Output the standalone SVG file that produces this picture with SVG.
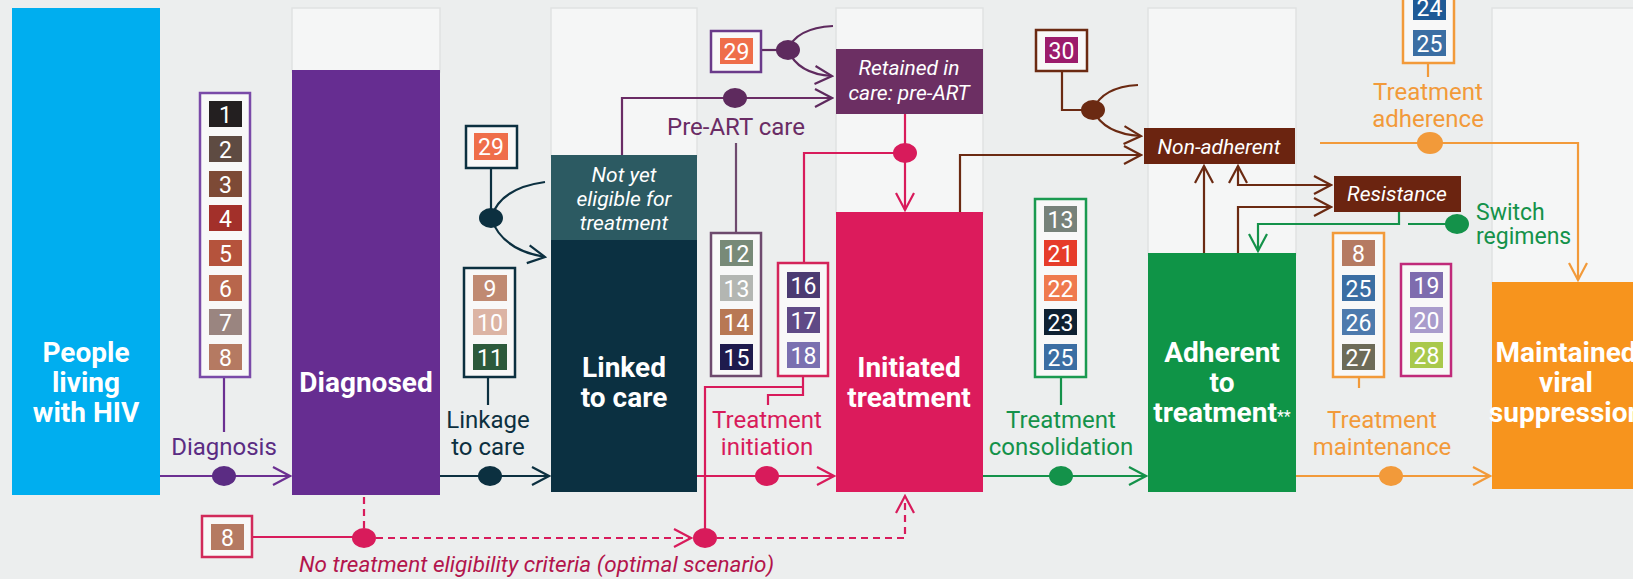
<svg xmlns="http://www.w3.org/2000/svg" width="1633" height="579" viewBox="0 0 1633 579">
<defs>
<style>
.bg{fill:#eceeee}
.panel{fill:#f5f6f6;stroke:#e0e2e2;stroke-width:1.5}
.big{font-family:Roboto,"Liberation Sans",sans-serif;font-weight:bold;font-size:28px;fill:#fff;text-anchor:middle}
.it{font-family:Roboto,"Liberation Sans",sans-serif;font-style:italic;font-size:21px;fill:#fff;text-anchor:middle}
.lbl{font-family:Roboto,"Liberation Sans",sans-serif;font-size:24px;text-anchor:middle}
.lbls{font-family:Roboto,"Liberation Sans",sans-serif;font-size:23px;text-anchor:start}
.num{font-family:Roboto,"Liberation Sans",sans-serif;font-size:23px;fill:#fff;text-anchor:middle}
.ob{fill:#f8f8f8;stroke-width:2.5}
.ln{fill:none;stroke-width:2.2}
.dash{fill:none;stroke-width:2.2;stroke-dasharray:7 5}
</style>
<marker id="aPu" markerUnits="userSpaceOnUse" markerWidth="20" markerHeight="22" viewBox="0 0 20 22" refX="18" refY="11" orient="auto-start-reverse"><path d="M1,2 L18,11 L1,20" fill="none" stroke="#6b2f91" stroke-width="2.2"/></marker>
<marker id="aNv" markerUnits="userSpaceOnUse" markerWidth="20" markerHeight="22" viewBox="0 0 20 22" refX="18" refY="11" orient="auto-start-reverse"><path d="M1,2 L18,11 L1,20" fill="none" stroke="#0c3040" stroke-width="2.2"/></marker>
<marker id="aCr" markerUnits="userSpaceOnUse" markerWidth="20" markerHeight="22" viewBox="0 0 20 22" refX="18" refY="11" orient="auto-start-reverse"><path d="M1,2 L18,11 L1,20" fill="none" stroke="#d81b5b" stroke-width="2.2"/></marker>
<marker id="aGr" markerUnits="userSpaceOnUse" markerWidth="20" markerHeight="22" viewBox="0 0 20 22" refX="18" refY="11" orient="auto-start-reverse"><path d="M1,2 L18,11 L1,20" fill="none" stroke="#14924a" stroke-width="2.2"/></marker>
<marker id="aOr" markerUnits="userSpaceOnUse" markerWidth="20" markerHeight="22" viewBox="0 0 20 22" refX="18" refY="11" orient="auto-start-reverse"><path d="M1,2 L18,11 L1,20" fill="none" stroke="#f29a3a" stroke-width="2.2"/></marker>
<marker id="aBr" markerUnits="userSpaceOnUse" markerWidth="20" markerHeight="22" viewBox="0 0 20 22" refX="18" refY="11" orient="auto-start-reverse"><path d="M1,2 L18,11 L1,20" fill="none" stroke="#6b2a12" stroke-width="2.2"/></marker>
<marker id="aPl" markerUnits="userSpaceOnUse" markerWidth="20" markerHeight="22" viewBox="0 0 20 22" refX="18" refY="11" orient="auto-start-reverse"><path d="M1,2 L18,11 L1,20" fill="none" stroke="#5e2a5e" stroke-width="2.2"/></marker>
</defs>
<rect class="bg" x="0" y="0" width="1633" height="579"/>

<g id="panels">
<rect class="panel" x="292" y="8" width="148" height="64"/>
<rect class="panel" x="551" y="8" width="146" height="149"/>
<rect class="panel" x="836" y="8" width="147" height="206"/>
<rect class="panel" x="1148" y="8" width="148" height="247"/>
<rect class="panel" x="1492" y="8" width="150" height="276"/>
</g>

<g id="connectors">
<path class="ln" d="M160,476 H290" stroke="#6b2f91" marker-end="url(#aPu)"/>
<path class="ln" d="M440,476 H549" stroke="#0c3040" marker-end="url(#aNv)"/>
<path class="ln" d="M697,476 H834" stroke="#d81b5b" marker-end="url(#aCr)"/>
<path class="ln" d="M983,476 H1146" stroke="#14924a" marker-end="url(#aGr)"/>
<path class="ln" d="M1296,476 H1490" stroke="#f29a3a" marker-end="url(#aOr)"/>
<path class="ln" d="M224,377 V432" stroke="#6b2f91"/>
<path class="ln" d="M488,377 V405" stroke="#0c3040"/>
<path class="ln" d="M1061,377 V405" stroke="#14924a"/>
<path class="ln" d="M1359,377 V388" stroke="#f29a3a"/>
<path class="ln" d="M1428,63 V77" stroke="#f29a3a"/>
<path class="ln" d="M736,143 V233" stroke="#6e4a6e"/>
<path class="ln" d="M491,168 V218" stroke="#0c3040"/>
<path class="ln" d="M491,218 Q500,188 545,182" stroke="#0c3040"/>
<path class="ln" d="M491,218 Q502,250 545,257" stroke="#0c3040" marker-end="url(#aNv)"/>
<path class="ln" d="M622,155 V98 H832" stroke="#6a2c65" marker-end="url(#aPl)"/>
<path class="ln" d="M761,50 H788" stroke="#5e2a5e"/>
<path class="ln" d="M788,50 Q796,28 833,26" stroke="#5e2a5e"/>
<path class="ln" d="M788,50 Q798,74 832,76" stroke="#5e2a5e" marker-end="url(#aPl)"/>
<path class="ln" d="M905,114 V210" stroke="#d81b5b" marker-end="url(#aCr)"/>
<path class="ln" d="M905,153 H804 V263" stroke="#d81b5b"/>
<path class="ln" d="M803,376 V395 H768 V405" stroke="#d81b5b"/>
<path class="ln" d="M803,387 H705 V538" stroke="#d81b5b"/>
<path class="ln" d="M252,537 H364" stroke="#d81b5b"/>
<path class="dash" d="M364,497 V530" stroke="#d81b5b"/>
<path class="dash" d="M376,538 H691" stroke="#d81b5b" marker-end="url(#aCr)"/>
<path class="dash" d="M717,538 H905 V496" stroke="#d81b5b" marker-end="url(#aCr)"/>
<path class="ln" d="M960,212 V155 H1141" stroke="#6b2a12" marker-end="url(#aBr)"/>
<path class="ln" d="M1062,71 V110 H1093" stroke="#6b2a12"/>
<path class="ln" d="M1093,110 Q1102,87 1138,85" stroke="#6b2a12"/>
<path class="ln" d="M1093,110 Q1104,134 1141,136" stroke="#6b2a12" marker-end="url(#aBr)"/>
<path class="ln" d="M1204,253 V166" stroke="#6b2a12" marker-end="url(#aBr)"/>
<path class="ln" d="M1238,166 V185 H1331" stroke="#6b2a12" marker-start="url(#aBr)" marker-end="url(#aBr)"/>
<path class="ln" d="M1238,253 V207 H1331" stroke="#6b2a12" marker-end="url(#aBr)"/>
<path class="ln" d="M1399,212 V224 H1258 V251" stroke="#14924a" marker-end="url(#aGr)"/>
<path class="ln" d="M1408,224 H1457" stroke="#14924a"/>
<path class="ln" d="M1320,143 H1578 V280" stroke="#f29a3a" marker-end="url(#aOr)"/>
<ellipse cx="224" cy="476" rx="12" ry="10" fill="#5b2c83"/>
<ellipse cx="490" cy="476" rx="12" ry="10" fill="#0c3040"/>
<ellipse cx="767" cy="476" rx="12" ry="10" fill="#d81b5b"/>
<ellipse cx="1061" cy="476" rx="12" ry="10" fill="#14924a"/>
<ellipse cx="1391" cy="476" rx="12" ry="10" fill="#f29a3a"/>
<ellipse cx="491" cy="218" rx="12" ry="10" fill="#0c3040"/>
<ellipse cx="735" cy="98" rx="12" ry="10" fill="#5e2a5e"/>
<ellipse cx="788" cy="50" rx="12" ry="10" fill="#5e2a5e"/>
<ellipse cx="905" cy="153" rx="12" ry="10" fill="#d81b5b"/>
<ellipse cx="364" cy="538" rx="12" ry="10" fill="#d81b5b"/>
<ellipse cx="705" cy="538" rx="12" ry="10" fill="#d81b5b"/>
<ellipse cx="1093" cy="110" rx="12" ry="10" fill="#6b2a12"/>
<ellipse cx="1457" cy="224" rx="12" ry="10" fill="#14924a"/>
<ellipse cx="1430" cy="143" rx="13" ry="11" fill="#f29a3a"/>
</g>

<g id="people">
<rect x="12" y="8" width="148" height="487" fill="#00aeef"/>
<text class="big"><tspan x="86" y="362">People</tspan><tspan x="86" y="392">living</tspan><tspan x="86" y="422">with HIV</tspan></text>
</g>
<g id="diagnosed">
<rect x="292" y="70" width="148" height="425" fill="#662d91"/>
<text class="big" x="366" y="392">Diagnosed</text>
</g>
<g id="linked">
<rect x="551" y="155" width="146" height="85" fill="#2c5a62"/>
<rect x="551" y="240" width="146" height="252" fill="#0b3041"/>
<text class="it"><tspan x="624" y="182">Not yet</tspan><tspan x="624" y="206">eligible for</tspan><tspan x="624" y="230">treatment</tspan></text>
<text class="big"><tspan x="624" y="377">Linked</tspan><tspan x="624" y="407">to care</tspan></text>
</g>
<g id="retained">
<rect x="836" y="49" width="147" height="65" fill="#6c2f63"/>
<text class="it"><tspan x="909" y="75">Retained in</tspan><tspan x="909" y="100">care: pre-ART</tspan></text>
</g>
<g id="initiated">
<rect x="836" y="212" width="147" height="280" fill="#dc1b5c"/>
<text class="big"><tspan x="909" y="377">Initiated</tspan><tspan x="909" y="407">treatment</tspan></text>
</g>
<g id="nonadherent">
<rect x="1144" y="128" width="151" height="36" fill="#6b2410"/>
<text class="it" x="1219" y="154">Non-adherent</text>
</g>
<g id="resistance">
<rect x="1334" y="176" width="127" height="36" fill="#6b2410"/>
<text class="it" x="1397" y="201">Resistance</text>
</g>
<g id="adherent">
<rect x="1148" y="253" width="148" height="239" fill="#0f9447"/>
<text class="big"><tspan x="1222" y="362">Adherent</tspan><tspan x="1222" y="392">to</tspan><tspan x="1222" y="422">treatment<tspan font-size="16" font-weight="normal">**</tspan></tspan></text>
</g>
<g id="maintained">
<rect x="1492" y="282" width="150" height="207" fill="#f7941d"/>
<text class="big"><tspan x="1566" y="362">Maintained</tspan><tspan x="1566" y="392">viral</tspan><tspan x="1566" y="422">suppression</tspan></text>
</g>

<g id="labels">
<text class="lbl" x="224" y="455" fill="#5b2c83">Diagnosis</text>
<text class="lbl" fill="#0c3040"><tspan x="488" y="428">Linkage</tspan><tspan x="488" y="455">to care</tspan></text>
<text class="lbl" fill="#d81b5b"><tspan x="767" y="428">Treatment</tspan><tspan x="767" y="455">initiation</tspan></text>
<text class="lbl" fill="#14924a"><tspan x="1061" y="428">Treatment</tspan><tspan x="1061" y="455">consolidation</tspan></text>
<text class="lbl" fill="#f29a3a"><tspan x="1382" y="428">Treatment</tspan><tspan x="1382" y="455">maintenance</tspan></text>
<text class="lbl" fill="#f29a3a"><tspan x="1428" y="100">Treatment</tspan><tspan x="1428" y="127">adherence</tspan></text>
<text class="lbl" x="736" y="135" fill="#6a2c65">Pre-ART care</text>
<text class="lbls" fill="#14924a"><tspan x="1476" y="220">Switch</tspan><tspan x="1476" y="244">regimens</tspan></text>
<text x="299" y="572" font-family="Roboto,'Liberation Sans',sans-serif" font-style="italic" font-size="22.5" fill="#b3154c">No treatment eligibility criteria (optimal scenario)</text>
</g>

<g id="box-1-8">
<rect class="ob" x="200" y="93" width="50" height="284" stroke="#7a4aa8"/>
<rect x="209" y="101" width="33" height="26" fill="#231f20"/><text class="num" x="225.5" y="123">1</text>
<rect x="209" y="136" width="33" height="26" fill="#5e4b42"/><text class="num" x="225.5" y="158">2</text>
<rect x="209" y="171" width="33" height="26" fill="#7d4a36"/><text class="num" x="225.5" y="193">3</text>
<rect x="209" y="205" width="33" height="26" fill="#a3302a"/><text class="num" x="225.5" y="227">4</text>
<rect x="209" y="240" width="33" height="26" fill="#b5533c"/><text class="num" x="225.5" y="262">5</text>
<rect x="209" y="275" width="33" height="26" fill="#b8664c"/><text class="num" x="225.5" y="297">6</text>
<rect x="209" y="309" width="33" height="26" fill="#9a8580"/><text class="num" x="225.5" y="331">7</text>
<rect x="209" y="344" width="33" height="26" fill="#b57a62"/><text class="num" x="225.5" y="366">8</text>
</g>
<g id="box-8-bottom">
<rect class="ob" x="202" y="516" width="50" height="41" stroke="#d12a5a"/>
<rect x="211" y="524" width="33" height="26" fill="#b57a62"/><text class="num" x="227.5" y="546">8</text>
</g>
<g id="box-29-left">
<rect class="ob" x="466" y="126" width="51" height="42" stroke="#0c3040"/>
<rect x="474" y="133" width="34" height="27" fill="#ef6e4a"/><text class="num" x="491" y="155">29</text>
</g>
<g id="box-9-11">
<rect class="ob" x="464" y="268" width="51" height="109" stroke="#0c3040"/>
<rect x="473" y="275" width="34" height="26" fill="#c08a72"/><text class="num" x="490" y="297">9</text>
<rect x="473" y="309" width="34" height="26" fill="#dcb4a4"/><text class="num" x="490" y="331">10</text>
<rect x="473" y="344" width="34" height="26" fill="#2d5a3c"/><text class="num" x="490" y="366">11</text>
</g>
<g id="box-29-top">
<rect class="ob" x="711" y="31" width="50" height="41" stroke="#6a3a8a"/>
<rect x="720" y="38" width="33" height="26" fill="#ef6e4a"/><text class="num" x="736.5" y="60">29</text>
</g>
<g id="box-12-15">
<rect class="ob" x="711" y="233" width="50" height="143" stroke="#6e4a6e"/>
<rect x="720" y="240" width="33" height="26" fill="#788a78"/><text class="num" x="736.5" y="262">12</text>
<rect x="720" y="275" width="33" height="26" fill="#b3b6b2"/><text class="num" x="736.5" y="297">13</text>
<rect x="720" y="309" width="33" height="26" fill="#b87854"/><text class="num" x="736.5" y="331">14</text>
<rect x="720" y="344" width="33" height="26" fill="#1f1b4d"/><text class="num" x="736.5" y="366">15</text>
</g>
<g id="box-16-18">
<rect class="ob" x="778" y="263" width="50" height="113" stroke="#d4245a"/>
<rect x="787" y="272" width="33" height="26" fill="#4b3b72"/><text class="num" x="803.5" y="294">16</text>
<rect x="787" y="307" width="33" height="26" fill="#5f4a86"/><text class="num" x="803.5" y="329">17</text>
<rect x="787" y="342" width="33" height="26" fill="#7a70b0"/><text class="num" x="803.5" y="364">18</text>
</g>
<g id="box-30">
<rect class="ob" x="1036" y="30" width="51" height="41" stroke="#6b2a12"/>
<rect x="1045" y="37" width="33" height="26" fill="#9c1c6c"/><text class="num" x="1061.5" y="59">30</text>
</g>
<g id="box-13-25">
<rect class="ob" x="1035" y="199" width="51" height="178" stroke="#1a9a50"/>
<rect x="1044" y="206" width="33" height="26" fill="#77827a"/><text class="num" x="1060.5" y="228">13</text>
<rect x="1044" y="240" width="33" height="26" fill="#e63c2a"/><text class="num" x="1060.5" y="262">21</text>
<rect x="1044" y="275" width="33" height="26" fill="#ef7a4e"/><text class="num" x="1060.5" y="297">22</text>
<rect x="1044" y="309" width="33" height="26" fill="#0f2132"/><text class="num" x="1060.5" y="331">23</text>
<rect x="1044" y="344" width="33" height="26" fill="#3b6ea3"/><text class="num" x="1060.5" y="366">25</text>
</g>
<g id="box-24-25">
<rect class="ob" x="1403" y="-10" width="51" height="73" stroke="#f29a3a"/>
<rect x="1413" y="-6" width="33" height="26" fill="#1f5a96"/><text class="num" x="1429.5" y="16">24</text>
<rect x="1413" y="30" width="33" height="26" fill="#3b6ea3"/><text class="num" x="1429.5" y="52">25</text>
</g>
<g id="box-8-27">
<rect class="ob" x="1333" y="233" width="51" height="144" stroke="#f29a3a"/>
<rect x="1342" y="240" width="33" height="26" fill="#b57a62"/><text class="num" x="1358.5" y="262">8</text>
<rect x="1342" y="275" width="33" height="26" fill="#3b6ea3"/><text class="num" x="1358.5" y="297">25</text>
<rect x="1342" y="309" width="33" height="26" fill="#4d7aad"/><text class="num" x="1358.5" y="331">26</text>
<rect x="1342" y="344" width="33" height="26" fill="#6d6b58"/><text class="num" x="1358.5" y="366">27</text>
</g>
<g id="box-19-28">
<rect class="ob" x="1401" y="264" width="50" height="112" stroke="#c02a7a"/>
<rect x="1410" y="272" width="33" height="26" fill="#7e6cae"/><text class="num" x="1426.5" y="294">19</text>
<rect x="1410" y="307" width="33" height="26" fill="#a99ccc"/><text class="num" x="1426.5" y="329">20</text>
<rect x="1410" y="342" width="33" height="26" fill="#a9c94c"/><text class="num" x="1426.5" y="364">28</text>
</g>
</svg>
